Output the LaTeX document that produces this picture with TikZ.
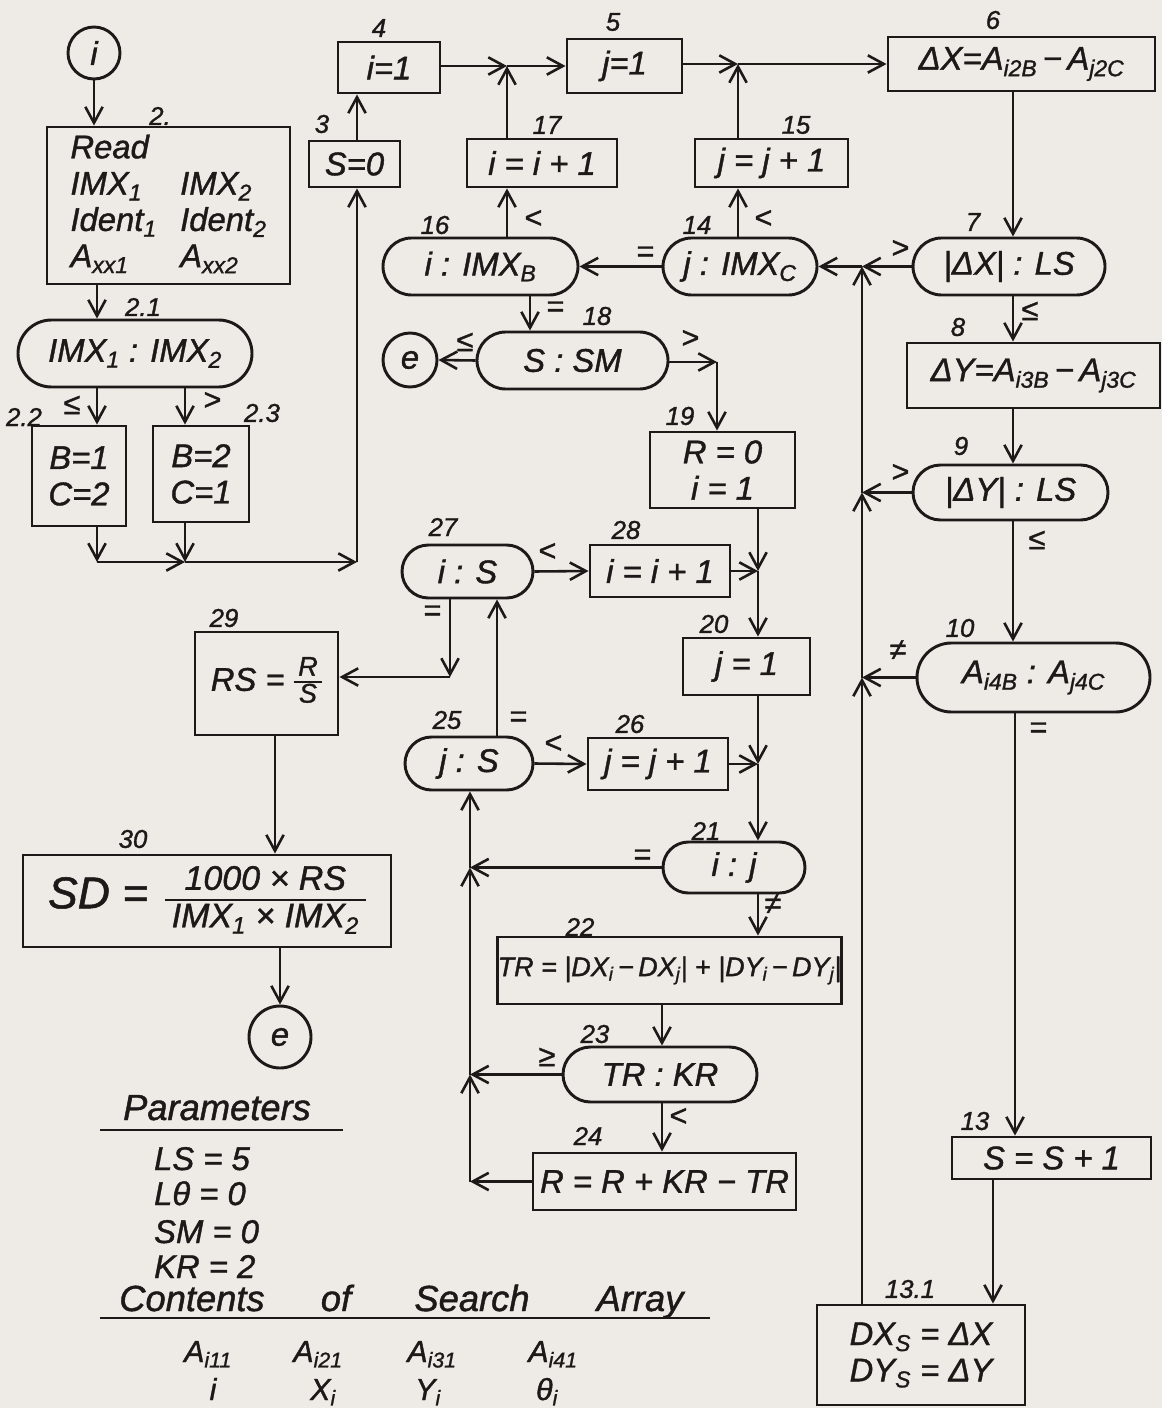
\documentclass[tikz,border=0pt]{standalone}
\usepackage{fontspec}
\setmainfont{Liberation Sans}[ItalicFeatures={FakeBold=1.2}]
\usetikzlibrary{arrows.meta,shapes.misc}
\newcommand\sbs[1]{\textsubscript{#1}}
\newcommand\fsz[2]{\fontsize{#1}{#2}\selectfont}
\definecolor{paper}{RGB}{238,235,230}
\definecolor{ink}{RGB}{28,25,25}
\setlength\arrayrulewidth{2pt}
\begin{document}
\begin{tikzpicture}[x=0.03cm,y=-0.03cm,
  every node/.style={text=ink,font=\fsz{28}{31}\itshape},
  rect/.style n args={4}{at={({(#1+#3)/2},{(#2+#4)/2})},minimum width={(#3-#1)*0.03cm},minimum height={(#4-#2)*0.03cm}},
  box/.style={draw=ink,line width=2.5pt,rectangle,inner sep=0pt},
  dec/.style={draw=ink,line width=2.5pt,rounded rectangle,inner sep=0pt},
  conn/.style={draw=ink,line width=2.5pt,circle,inner sep=0pt},
  arr/.style={draw=ink,line width=2.2pt,-{Straight Barb[length=4.8mm,width=5.2mm]}},
  lab/.style={font=\fsz{22}{24}\itshape},
  cnd/.style={font=\fsz{26}{28}\itshape},
  par/.style={font=\fsz{28}{32}\itshape},
  uline/.style={draw=ink,line width=2.2pt}
]
\fill[paper] (0,0) rectangle (1162,1408);
\useasboundingbox (0,0) rectangle (1162,1408);

% ---------- left column ----------
\node[conn,minimum size=1.56cm] (ci) at (94,53) {i};
\node[box,rect={47}{127}{290}{284}] (b2) {\begin{tabular}{@{}l@{\hspace{20pt}}l@{}}Read & \\ IMX\sbs{1} & IMX\sbs{2}\\ Ident\sbs{1} & Ident\sbs{2}\\ A\sbs{xx1} & A\sbs{xx2}\end{tabular}};
\node[dec,rect={18}{320}{252}{387}] (d2a) {IMX\sbs{1} : IMX\sbs{2}};
\node[box,align=center,rect={32}{426}{126}{526}] (b2b) {B=1\\C=2};
\node[box,align=center,rect={153}{426}{249}{522}] (b2c) {B=2\\C=1};
\node[box,rect={309}{141}{400}{187}] (b3) {S=0};
\node[box,rect={338}{42}{440}{93}] (b4) {i=1};

% ---------- top row ----------
\node[box,rect={567}{39}{682}{93}] (b5) {j=1};
\node[box,rect={888}{37}{1155}{91}] (b6) {ΔX=A\sbs{i2B}\,−\,A\sbs{j2C}};
\node[box,rect={467}{139}{617}{187}] (b17) {i = i + 1};
\node[box,rect={695}{139}{848}{187}] (b15) {j = j + 1};
\node[dec,rect={383}{238}{578}{295}] (d16) {i : IMX\sbs{B}};
\node[dec,rect={663}{238}{817}{295}] (d14) {j : IMX\sbs{C}};

% ---------- right column ----------
\node[dec,rect={913}{238}{1105}{295}] (d7) {|ΔX| : LS};
\node[box,rect={907}{343}{1160}{408}] (b8) {ΔY=A\sbs{i3B}\,−\,A\sbs{j3C}};
\node[dec,rect={913}{465}{1108}{520}] (d9) {|ΔY| : LS};
\node[dec,rect={917}{643}{1150}{712}] (d10) {A\sbs{i4B} : A\sbs{j4C}};
\node[box,rect={952}{1137}{1151}{1179}] (b13) {S = S + 1};
\node[box,align=center,rect={817}{1305}{1025}{1405}] (b131) {DX\sbs{S} = ΔX\\DY\sbs{S} = ΔY};

% ---------- middle ----------
\node[dec,rect={477}{332}{668}{389}] (d18) {S : SM};
\node[conn,minimum size=1.62cm] (ce1) at (410,360) {e};
\node[box,align=center,rect={650}{432}{795}{508}] (b19) {R = 0\\i = 1};
\node[dec,rect={402}{545}{533}{598}] (d27) {i : S};
\node[box,rect={590}{545}{730}{597}] (b28) {i = i + 1};
\node[box,rect={683}{638}{810}{695}] (b20) {j = 1};
\node[dec,rect={405}{737}{533}{790}] (d25) {j : S};
\node[box,rect={588}{738}{728}{790}] (b26) {j = j + 1};
\node[dec,rect={663}{842}{805}{893}] (d21) {i : j};
\node[box,rect={509}{937}{830}{1004},font=\fsz{23}{28}\itshape] (b22) {TR = |DX\sbs{i}\,−\,DX\sbs{j}| + |DY\sbs{i}\,−\,DY\sbs{j}|};
\node[dec,rect={563}{1047}{757}{1102}] (d23) {TR : KR};
\node[box,rect={533}{1153}{796}{1210}] (b24) {R = R + KR − TR};

% ---------- lower left ----------
\node[box,rect={195}{632}{338}{735}] (b29) {RS = {\fsz{23}{24}\begin{tabular}{@{\,}c@{\,}}R\\[-3pt]\hline S\end{tabular}}};
\node[box,rect={23}{855}{391}{947}] (b30) {{\fsz{38}{40}SD =}\hspace{14pt}{\fsz{29}{32}\begin{tabular}{@{\hspace{6pt}}c@{\hspace{6pt}}}1000 × RS\\[-2pt]\hline IMX\sbs{1} × IMX\sbs{2}\end{tabular}}};
\node[conn,minimum size=1.86cm] (ce2) at (280,1037) {e};

% ---------- junction points ----------
\coordinate (k1) at (97,562);
\coordinate (k2) at (185,562);
\coordinate (k3) at (357,562);
\coordinate (j1) at (507,66);
\coordinate (j2) at (738,64);
\coordinate (v1) at (862,266.5);
\coordinate (v2) at (862,492.5);
\coordinate (v3) at (862,677.5);
\coordinate (m1) at (717,362);
\coordinate (m2) at (758,571);
\coordinate (m3) at (758,764);
\coordinate (c27) at (450,677);
\coordinate (w1) at (470,867.5);
\coordinate (w2) at (470,1074.5);
\coordinate (w3) at (470,1181.5);
\coordinate (x530) at (530,0);
\coordinate (x497) at (497,0);
\coordinate (x1013) at (1013,0);
\coordinate (x1015) at (1015,0);
\coordinate (x993) at (993,0);
\coordinate (x662) at (662,0);
\coordinate (x275) at (275,0);

% ---------- connectors ----------
\draw[arr] (ci.south) -- (ci.south |- b2.north);
\draw[arr] (b2.south -| k1) -- (k1 |- d2a.north);
\draw[arr] (d2a.south -| k1) -- (k1 |- b2b.north);
\draw[arr] (d2a.south -| k2) -- (k2 |- b2c.north);
\draw[arr] (b2b.south -| k1) -- (k1);
\draw[arr] (k1) -- (k2);
\draw[arr] (b2c.south -| k2) -- (k2);
\draw[arr] (k2) -- (k3);
\draw[arr] (k3) -- (k3 |- b3.south);
\draw[arr] (b3.north -| k3) -- (k3 |- b4.south);
\draw[arr] (b4.east |- j1) -- (j1);
\draw[arr] (j1) -- (j1 -| b5.west);
\draw[arr] (b17.north -| j1) -- (j1);
\draw[arr] (d16.north -| j1) -- (j1 |- b17.south);
\draw[arr] (b5.east |- j2) -- (j2);
\draw[arr] (j2) -- (j2 -| b6.west);
\draw[arr] (b15.north -| j2) -- (j2);
\draw[arr] (d14.north -| j2) -- (j2 |- b15.south);
\draw[arr] (d14.west) -- (d16.east);
\draw[arr] (d16.south -| x530) -- (x530 |- d18.north);
\draw[arr] (d18.west) -- (ce1.east);
\draw[arr] (d18.east |- m1) -- (m1);
\draw[arr] (m1) -- (m1 |- b19.north);
\draw[arr] (b6.south -| x1013) -- (x1013 |- d7.north);
\draw[arr] (d7.west) -- (v1);
\draw[arr] (v1) -- (d14.east);
\draw[arr] (d7.south -| x1013) -- (x1013 |- b8.north);
\draw[arr] (b8.south -| x1013) -- (x1013 |- d9.north);
\draw[arr] (d9.west) -- (v2);
\draw[arr] (d9.south -| x1013) -- (x1013 |- d10.north);
\draw[arr] (d10.west) -- (v3);
\draw[arr] (d10.south -| x1015) -- (x1015 |- b13.north);
\draw[arr] (b13.south -| x993) -- (x993 |- b131.north);
\draw[arr] (b131.north -| v3) -- (v3);
\draw[arr] (v3) -- (v2);
\draw[arr] (v2) -- (v1);
\draw[arr] (b19.south -| m2) -- (m2);
\draw[arr] (b28.east) -- (m2);
\draw[arr] (m2) -- (m2 |- b20.north);
\draw[arr] (b20.south -| m3) -- (m3);
\draw[arr] (b26.east) -- (m3);
\draw[arr] (m3) -- (m3 |- d21.north);
\draw[arr] (d27.east) -- (b28.west);
\draw[arr] (d27.south -| c27) -- (c27);
\draw[arr] (c27) -- (c27 -| b29.east);
\draw[arr] (d25.north -| x497) -- (x497 |- d27.south);
\draw[arr] (d25.east) -- (b26.west);
\draw[arr] (d21.west) -- (w1);
\draw[arr] (w1) -- (w1 |- d25.south);
\draw[arr] (d21.south -| m3) -- (m3 |- b22.north);
\draw[arr] (b22.south -| x662) -- (x662 |- d23.north);
\draw[arr] (d23.west) -- (w2);
\draw[arr] (w2) -- (w1);
\draw[arr] (d23.south -| x662) -- (x662 |- b24.north);
\draw[arr] (b24.west) -- (w3);
\draw[arr] (w3) -- (w2);
\draw[arr] (b29.south -| x275) -- (x275 |- b30.north);
\draw[arr] (b30.south -| ce2) -- (ce2.north);

% ---------- step numbers ----------
\node[lab] (n2) at (160,116) {2.};
\node[lab] (n21) at (143,307) {2.1};
\node[lab] (n22) at (24,417) {2.2};
\node[lab] (n23) at (262,413) {2.3};
\node[lab] (n3) at (322,124) {3};
\node[lab] (n4) at (379,28) {4};
\node[lab] (n5) at (613,22) {5};
\node[lab] (n6) at (993,20) {6};
\node[lab] (n17) at (547,125) {17};
\node[lab] (n15) at (796,125) {15};
\node[lab] (n16) at (435,225) {16};
\node[lab] (n14) at (697,225) {14};
\node[lab] (n7) at (973,222) {7};
\node[lab] (n8) at (958,327) {8};
\node[lab] (n9) at (961,446) {9};
\node[lab] (n10) at (960,628) {10};
\node[lab] (n18) at (597,316) {18};
\node[lab] (n19) at (680,416) {19};
\node[lab] (n27) at (443,527) {27};
\node[lab] (n28) at (626,530) {28};
\node[lab] (n20) at (714,624) {20};
\node[lab] (n25) at (447,720) {25};
\node[lab] (n26) at (630,724) {26};
\node[lab] (n21b) at (706,831) {21};
\node[lab] (n22b) at (580,927) {22};
\node[lab] (n23b) at (595,1034) {23};
\node[lab] (n24) at (588,1136) {24};
\node[lab] (n29) at (224,618) {29};
\node[lab] (n30) at (133,839) {30};
\node[lab] (n13) at (975,1121) {13};
\node[lab] (n131) at (910,1289) {13.1};

% ---------- branch conditions ----------
\node[cnd] (c1) at (72,405) {≤};
\node[cnd] (c2) at (212,401) {>};
\node[cnd] (c3) at (900,249) {>};
\node[cnd] (c4) at (1030,311) {≤};
\node[cnd] (c5) at (900,473) {>};
\node[cnd] (c6) at (1037,540) {≤};
\node[cnd] (c7) at (898,650) {≠};
\node[cnd] (c8) at (1038,730) {=};
\node[cnd] (c9) at (533,219) {<};
\node[cnd] (c10) at (763,219) {<};
\node[cnd] (c11) at (645,254) {=};
\node[cnd] (c12) at (555,309) {=};
\node[cnd] (c13) at (465,342) {≤};
\node[cnd] (c14) at (690,339) {>};
\node[cnd] (c15) at (547,552) {<};
\node[cnd] (c16) at (432,613) {=};
\node[cnd] (c17) at (518,719) {=};
\node[cnd] (c18) at (553,744) {<};
\node[cnd] (c19) at (642,857) {=};
\node[cnd] (c20) at (773,904) {≠};
\node[cnd] (c21) at (547,1057) {≥};
\node[cnd] (c22) at (678,1117) {<};

% ---------- parameters ----------
\node[par,font=\fsz{31}{34}\itshape,anchor=base] (tp) at (217,1120) {Parameters};
\draw[uline] (100,1130) -- (343,1130);
\node[par,anchor=base west] (p1) at (150,1170) {LS = 5};
\node[par,anchor=base west] (p2) at (150,1205) {Lθ = 0};
\node[par,anchor=base west] (p3) at (150,1243) {SM = 0};
\node[par,anchor=base west] (p4) at (150,1278) {KR = 2};
\node[par,font=\fsz{31}{34}\itshape,anchor=base] (s1) at (192,1311) {Contents};
\node[par,font=\fsz{31}{34}\itshape,anchor=base] (s2) at (336,1311) {of};
\node[par,font=\fsz{31}{34}\itshape,anchor=base] (s3) at (472,1311) {Search};
\node[par,font=\fsz{31}{34}\itshape,anchor=base] (s4) at (640,1311) {Array};
\draw[uline] (100,1318) -- (710,1318);
\node[cnd,anchor=base] (a1) at (208,1362) {A\sbs{i11}};
\node[cnd,anchor=base] (a2) at (318,1362) {A\sbs{i21}};
\node[cnd,anchor=base] (a3) at (432,1362) {A\sbs{i31}};
\node[cnd,anchor=base] (a4) at (553,1362) {A\sbs{i41}};
\node[cnd,anchor=base] (r1) at (213,1400) {i};
\node[cnd,anchor=base] (r2) at (323,1400) {X\sbs{i}};
\node[cnd,anchor=base] (r3) at (428,1400) {Y\sbs{i}};
\node[cnd,anchor=base] (r4) at (547,1400) {θ\sbs{i}};
\end{tikzpicture}
\end{document}
